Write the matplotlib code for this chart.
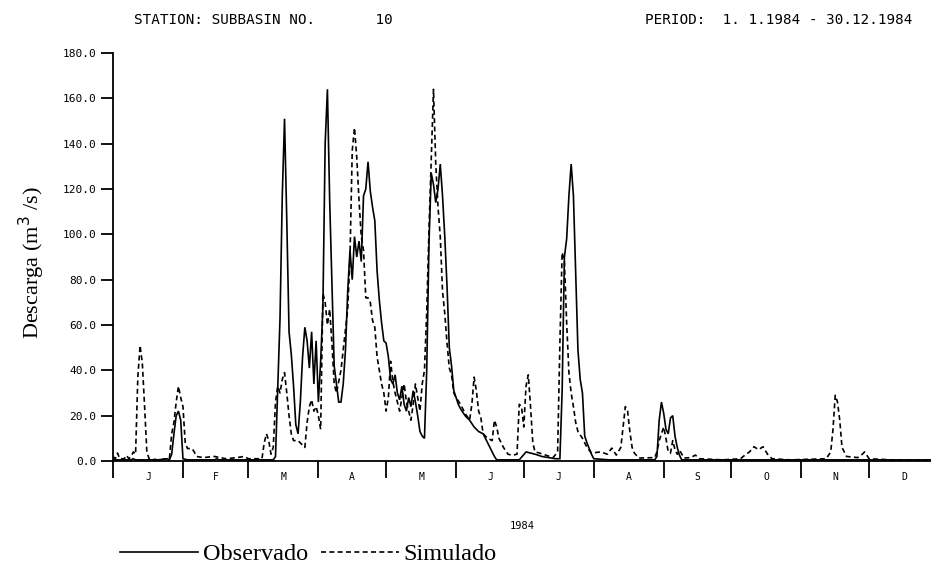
import matplotlib
matplotlib.use("Agg")
import matplotlib.pyplot as plt
from matplotlib.lines import Line2D

# daily discharge 1984 (day of year, m3/s)
obs_days = [0, 8, 9, 10, 20, 24, 25, 26, 27, 28, 29, 30, 31, 33, 45, 46, 47, 71,
            72, 73, 74, 75, 76, 77, 78, 79, 80, 81, 82, 83, 84, 85, 86, 87, 88, 89,
            90, 91, 92, 93, 94, 95, 96, 97, 98, 99, 100, 101, 102, 103, 104, 105,
            106, 107, 108, 109, 110, 111, 112, 113, 114, 115, 116, 117, 118, 119,
            120, 121, 122, 123, 124, 125, 126, 127, 128, 129, 130, 131, 132, 133,
            134, 135, 136, 137, 138, 139, 140, 141, 142, 143, 144, 145, 146, 147,
            148, 149, 150, 151, 152, 153, 154, 156, 158, 160, 162, 164, 165, 167,
            169, 170, 180, 183, 185, 187, 190, 193, 196, 198, 199, 200, 201, 202,
            203, 204, 205, 206, 207, 208, 209, 210, 212, 213, 220, 240, 241, 242,
            243, 244, 245, 246, 247, 248, 249, 250, 251, 252, 365]
obs_vals = [0.5, 0.5, 1, 0.5, 0.5, 1, 0.5, 3, 12, 20, 22, 18, 1, 0.5, 0.5, 1, 0.5, 0.5,
            2, 33, 63, 117, 151, 106, 57, 47, 33, 16, 12, 26, 46, 59, 53, 41, 57, 34,
            53, 26, 44, 68, 140, 164, 115, 78, 42, 34, 26, 26, 34, 49, 75, 93,
            80, 99, 90, 97, 88, 117, 120, 132, 119, 112, 106, 84, 71, 61,
            53, 52, 46, 36, 34, 38, 30, 27, 33, 25, 22, 28, 24, 31,
            26, 20, 13, 11, 10, 40, 96, 127, 122, 114, 120, 131, 117, 99,
            77, 50, 42, 31, 28, 25, 23, 20, 18, 15, 13, 12, 10, 6,
            2, 0.5, 0.5, 4, 3.5, 3, 2, 1.5, 1, 1, 31, 90, 98, 117,
            131, 117, 83, 49, 36, 30, 11, 8, 3, 1, 0.5, 0.5, 2, 18,
            26, 21, 14, 12, 19, 20, 11, 6, 2.5, 0.5, 0.5]

sim_days = [0, 1, 2, 3, 5, 6, 7, 8, 9, 10, 11, 12, 13, 14, 15, 16, 20, 25, 26, 27,
            28, 29, 30, 31, 32, 33, 35, 36, 37, 40, 45, 50, 55, 58, 60, 66, 67, 68,
            69, 70, 71, 72, 73, 74, 75, 76, 77, 78, 79, 80, 82, 84, 85, 86, 87, 88,
            89, 90, 91, 92, 93, 94, 95, 96, 97, 98, 99, 100, 101, 102, 103, 104,
            105, 106, 107, 108, 109, 110, 111, 112, 113, 114, 115, 116, 117, 118,
            119, 120, 121, 122, 123, 124, 125, 126, 127, 128, 129, 130, 131, 132,
            133, 134, 135, 136, 137, 138, 139, 140, 141, 142, 143, 144, 145, 146,
            147, 148, 149, 150, 151, 152, 154, 156, 158, 159, 160, 161, 162, 163,
            164, 166, 168, 169, 170, 171, 173, 175, 177, 179, 180, 181, 182, 183,
            184, 185, 186, 187, 189, 192, 195, 197, 198, 199, 200, 201, 202, 203,
            204, 205, 206, 208, 210, 212, 216, 219, 221, 223, 225, 226, 227, 228,
            229, 230, 231, 233, 240, 241, 242, 243, 244, 245, 246, 247, 248, 249,
            250, 251, 252, 253, 256, 258, 260, 270, 278, 280, 282, 284, 286, 288,
            290, 292, 300, 316, 318, 319, 320, 321, 322, 323, 325, 330, 332, 333,
            335, 345, 365]
sim_vals = [2, 1, 3.5, 1, 1, 2.5, 1, 2, 4, 3, 37, 51, 43, 24, 4, 1, 0.5, 1, 12, 17,
            26, 33, 28, 24, 8, 5.5, 5.5, 4, 2, 1.5, 2, 1, 1.5, 2, 1, 1, 8, 12,
            9, 3, 6, 26, 33, 30, 36, 39, 30, 20, 12, 9, 9, 7, 6, 17, 24, 27,
            22, 24, 20, 14, 74, 70, 60, 67, 52, 34, 30, 35, 40, 49, 58, 67,
            90, 137, 147, 134, 115, 99, 93, 72, 72, 70, 62, 59, 46, 40,
            34, 30, 22, 28, 44, 35, 30, 26, 22, 28, 34, 26, 22, 18,
            25, 34, 28, 22, 34, 40, 66, 102, 133, 164, 131, 112, 99, 75,
            65, 52, 41, 38, 30, 28, 25, 21, 18, 25, 37, 31, 22, 19,
            12, 10, 9, 18, 15, 10, 6, 3, 2.5, 3, 25, 24, 15, 33,
            38, 24, 8, 4, 3.5, 2.5, 1.5, 4, 52, 92, 88, 61, 39, 30,
            24, 17, 13, 10, 6, 3.5, 4, 3, 5.7, 2.6, 6, 15, 24, 22,
            13, 6, 3.5, 1.3, 1.5, 4, 9, 12, 15, 10, 4, 3.5, 9, 5,
            3, 4.8, 3, 1.3, 1.5, 2.6, 1, 0.5, 1, 2.6, 4, 6.3, 5, 6.3,
            3, 1, 0.5, 1, 4, 14, 29, 26, 18, 6, 2, 1.5, 3, 4,
            1, 0.5, 0.5]

month_starts = [0, 31, 60, 91, 121, 152, 182, 213, 244, 274, 305, 335, 366]
month_labels = ["J", "F", "M", "A", "M", "J", "J", "A", "S", "O", "N", "D"]
y_ticks = [0, 20, 40, 60, 80, 100, 120, 140, 160, 180]

mono = "DejaVu Sans Mono"
serif = "Liberation Serif"

fig = plt.figure(figsize=(9.31, 5.66), dpi=100)
ax = fig.add_axes([113 / 931, 105 / 566, 818 / 931, 408 / 566])

ax.plot(obs_days, obs_vals, color="black", lw=1.2, solid_joinstyle="miter")
ax.plot(sim_days, sim_vals, color="black", lw=1.2, dashes=(3, 2))

ax.set_xlim(0, 818 / 2.257)
ax.set_ylim(0, 180)

for s in ["top", "right"]:
    ax.spines[s].set_visible(False)
ax.spines["left"].set_linewidth(1.3)
ax.spines["bottom"].set_linewidth(1.3)

ax.set_xticks(month_starts[:-1])
ax.set_xticklabels([])
ax.tick_params(axis="x", which="major", direction="out", length=12, width=1.3)
mids = [(month_starts[i] + month_starts[i + 1]) / 2 for i in range(12)]
ax.set_xticks(mids, minor=True)
ax.set_xticklabels(month_labels, minor=True, fontfamily=mono, fontsize=7)
ax.tick_params(axis="x", which="minor", length=0, pad=8)

ax.set_yticks(y_ticks)
ax.set_yticklabels(["%.1f" % v for v in y_ticks], fontfamily=mono, fontsize=8)
ax.tick_params(axis="y", direction="out", length=8.5, width=1.3, pad=3.5)

ax.set_xlabel("1984", fontfamily=mono, fontsize=7.5, labelpad=28)
ax.set_ylabel("Descarga (m$^3$ /s)", fontfamily=serif, fontsize=16)
ax.yaxis.set_label_coords(-0.081, 0.487)

fig.text(134 / 931, 1 - 20 / 566, "STATION: SUBBASIN NO.       10",
         fontfamily=mono, fontsize=10.3, va="center")
fig.text(645 / 931, 1 - 20 / 566, "PERIOD:  1. 1.1984 - 30.12.1984",
         fontfamily=mono, fontsize=10.3, va="center")

handles = [Line2D([], [], color="black", lw=1.2),
           Line2D([], [], color="black", lw=1.2, dashes=(3, 2))]
fig.legend(handles, ["Observado", "Simulado"], loc="center left",
           bbox_to_anchor=(98 / 931, 1 - 554 / 566), ncol=2, frameon=False,
           handlelength=3.2, handletextpad=0.2, columnspacing=0.55,
           prop={"family": serif, "size": 17.5})

fig.savefig("out.png", dpi=100)
